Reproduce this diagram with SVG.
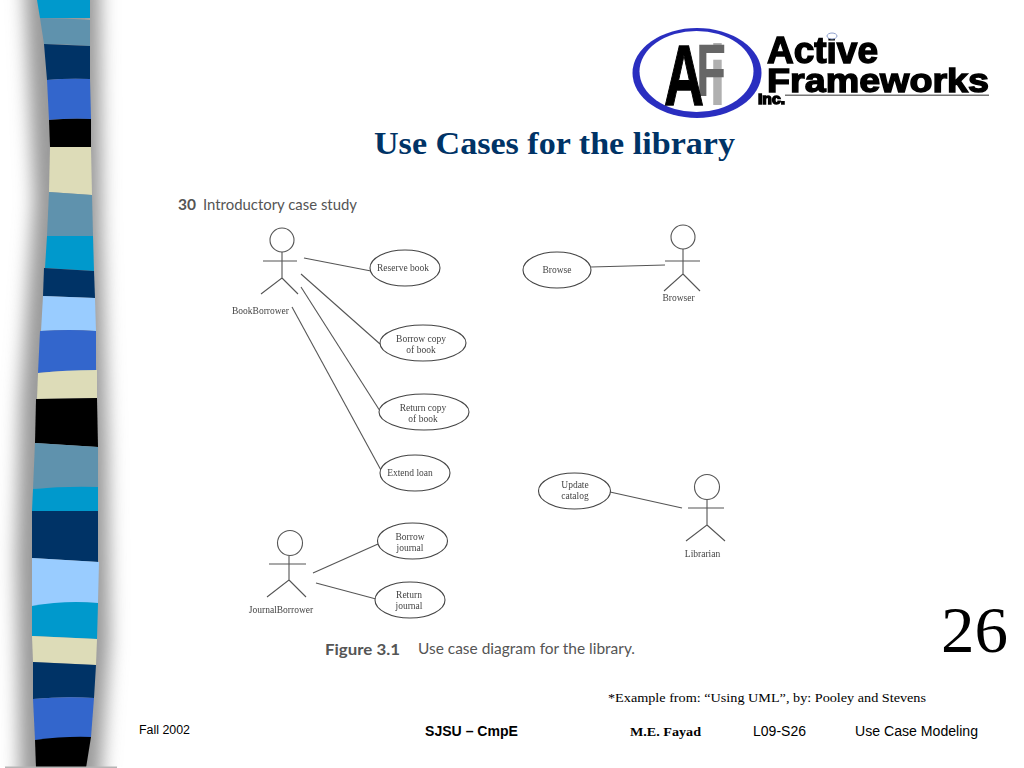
<svg xmlns="http://www.w3.org/2000/svg" width="1024" height="768" viewBox="0 0 1024 768">
<defs>
<style>
.ln{fill:none;stroke:#555;stroke-width:1.1}
.uc{fill:#fff;stroke:#444;stroke-width:1.1}
.t{font-family:"Liberation Serif",serif;font-size:9.5px;fill:#444;text-anchor:middle}
.h{font-family:Lato,"Open Sans",sans-serif;fill:#555}
.f{font-family:"Liberation Sans",sans-serif;fill:#000}
.s{font-family:"Liberation Serif",serif;fill:#000}
.logo{font-family:"Liberation Sans",sans-serif;font-weight:bold;fill:#000;stroke:#000;stroke-width:1.4}
</style>
<filter id="b" x="-40%" y="-5%" width="180%" height="110%"><feGaussianBlur stdDeviation="9"/></filter>
<filter id="soft" x="-5%" y="-5%" width="110%" height="110%"><feGaussianBlur stdDeviation="0.35"/></filter>
<clipPath id="page"><rect x="0" y="0" width="1024" height="767"/></clipPath>
</defs>
<rect width="1024" height="768" fill="#fff"/>

<g id="sidebar" clip-path="url(#page)">
<path d="M24 -20L100 -20L102 230L108 450L110 640L100 790L20 790L16 560L20 400L34 200Z" fill="#9a9a9a" filter="url(#b)"/>
<path d="M37 0L90 0L90 18L40 18Z" fill="#0099cc"/>
<path d="M40 18Q65 18 90 20L90 46Q65 44 44 44Z" fill="#5f92ad"/>
<path d="M44 44L90 46L90 79Q68 78 47 80Z" fill="#003366"/>
<path d="M47 80Q68 78 90 79L91 119Q68 118 49 120Z" fill="#3366cc"/>
<path d="M49 120Q70 118 91 119L91 147L50 147Z" fill="#000"/>
<path d="M50 147L91 147L92 195L49 192Z" fill="#dddcb8"/>
<path d="M49 192L92 195L93 236L47 236Z" fill="#5f92ad"/>
<path d="M47 236L93 236L94 271L45 268Z" fill="#0099cc"/>
<path d="M44 268L94 271L95 298L43 296Z" fill="#003366"/>
<path d="M43 296L95 298L96 331Q70 329 41 331Z" fill="#99ccff"/>
<path d="M40 331Q70 329 96 331L96 371Q65 370 38 373Z" fill="#3366cc"/>
<path d="M38 373Q65 370 97 370L97 398L37 399Z" fill="#dddcb8"/>
<path d="M36 399L97 398L98 447L35 443Z" fill="#000"/>
<path d="M35 443L98 447L98 488Q65 487 33 489Z" fill="#5f92ad"/>
<path d="M33 489Q65 486 98 487L98 511L32 511Z" fill="#0099cc"/>
<path d="M32 511L98 511L98 562L32 558Z" fill="#003366"/>
<path d="M32 558L99 562L98 603Q65 601 32 606Z" fill="#99ccff"/>
<path d="M32 606Q65 600 98 603L97 639L32 636Z" fill="#0099cc"/>
<path d="M32 636L97 639L96 665L33 662Z" fill="#dddcb8"/>
<path d="M33 662L96 665L94 698Q65 696 33 699Z" fill="#003366"/>
<path d="M33 699Q65 696 94 698L91 737L35 740Z" fill="#3366cc"/>
<path d="M35 740Q65 736 91 737L86 768L36 768Z" fill="#000"/>
</g>
<rect id="footer-rule" x="5" y="766.500" width="112" height="1.500" fill="#b5b5b5"/>

<g id="logo" filter="url(#soft)">
<ellipse cx="697" cy="73" rx="64.500" ry="45" fill="#2a2fc0"/>
<ellipse cx="696.500" cy="71.500" rx="57" ry="40.500" fill="#fff"/>
<text x="709" y="105" font-family="Liberation Sans,sans-serif" font-weight="bold" font-size="86" fill="#b0b0b0" textLength="17" lengthAdjust="spacingAndGlyphs">i</text>
<text x="696" y="96" font-family="Liberation Sans,sans-serif" font-weight="bold" font-size="74" fill="#666" textLength="30" lengthAdjust="spacingAndGlyphs">F</text>
<text class="logo" x="664" y="105" font-size="86" textLength="40" lengthAdjust="spacingAndGlyphs">A</text>
<text class="logo" x="767" y="63" font-size="36" textLength="111" lengthAdjust="spacingAndGlyphs">Active</text>
<text class="logo" x="767" y="92" font-size="34" textLength="222" lengthAdjust="spacingAndGlyphs">Frameworks</text>
<text class="logo" x="758" y="104" font-size="14" stroke-width=".4" textLength="27" lengthAdjust="spacingAndGlyphs">Inc.</text>
<rect x="785" y="94.500" width="204" height="1.500" fill="#777"/>
<ellipse cx="832" cy="36" rx="5" ry="3" fill="#fff" stroke="#8fa0cc"/>
</g>

<text id="title" x="374" y="154" font-family="Liberation Serif,serif" font-weight="bold" font-size="32" fill="#003366" textLength="361" lengthAdjust="spacingAndGlyphs">Use Cases for the library</text>

<g id="book-heading">
<text class="h" x="178" y="210" font-size="16" font-weight="bold" fill="#444" textLength="18" lengthAdjust="spacingAndGlyphs">30</text>
<text class="h" x="203" y="210" font-size="15" textLength="154" lengthAdjust="spacingAndGlyphs">Introductory case study</text>
</g>

<g id="connectors" filter="url(#soft)">
<line class="ln" x1="304" y1="258" x2="371" y2="271"/>
<line class="ln" x1="301" y1="274" x2="380" y2="344"/>
<line class="ln" x1="301" y1="287" x2="380" y2="411"/>
<line class="ln" x1="292" y1="307" x2="382" y2="472"/>
<line class="ln" x1="591" y1="267" x2="665" y2="265"/>
<line class="ln" x1="610" y1="492" x2="682" y2="508"/>
<line class="ln" x1="313" y1="573" x2="378" y2="544"/>
<line class="ln" x1="316" y1="583" x2="376" y2="599"/>
</g>

<g id="actor-bookborrower" filter="url(#soft)">
<circle class="ln" cx="282" cy="240" r="12"/>
<path class="ln" d="M263 261H297M282 252V278L261 294M282 278L298 294"/>
<text class="t" x="260.500" y="314">BookBorrower</text>
</g>
<g id="actor-browser" filter="url(#soft)">
<circle class="ln" cx="683" cy="237" r="12"/>
<path class="ln" d="M665 261H700M683 249V274L664 291M683 274L700 291"/>
<text class="t" x="678.500" y="301">Browser</text>
</g>
<g id="actor-librarian" filter="url(#soft)">
<circle class="ln" cx="707" cy="487" r="12.500"/>
<path class="ln" d="M688 508H724M707 500V525L686 541M707 525L725 541"/>
<text class="t" x="702.500" y="557">Librarian</text>
</g>
<g id="actor-journalborrower" filter="url(#soft)">
<circle class="ln" cx="290" cy="543" r="12.500"/>
<path class="ln" d="M269 564H306M289 556V580L267 597M289 580L306 597"/>
<text class="t" x="281" y="613">JournalBorrower</text>
</g>

<g id="uc-reserve" filter="url(#soft)"><ellipse class="uc" cx="405" cy="268" rx="35" ry="18"/><text class="t" x="403" y="271">Reserve book</text></g>
<g id="uc-borrow-copy" filter="url(#soft)"><ellipse class="uc" cx="423" cy="343" rx="43" ry="18"/><text class="t" x="421" y="342">Borrow copy</text><text class="t" x="421" y="353">of book</text></g>
<g id="uc-return-copy" filter="url(#soft)"><ellipse class="uc" cx="424" cy="412" rx="45" ry="18"/><text class="t" x="423" y="411">Return copy</text><text class="t" x="423" y="422">of book</text></g>
<g id="uc-extend" filter="url(#soft)"><ellipse class="uc" cx="415" cy="473" rx="35" ry="18"/><text class="t" x="410" y="476">Extend loan</text></g>
<g id="uc-browse" filter="url(#soft)"><ellipse class="uc" cx="557" cy="270" rx="34" ry="18"/><text class="t" x="557" y="273">Browse</text></g>
<g id="uc-update" filter="url(#soft)"><ellipse class="uc" cx="574.500" cy="491" rx="36" ry="18"/><text class="t" x="575" y="488">Update</text><text class="t" x="575" y="499">catalog</text></g>
<g id="uc-borrow-journal" filter="url(#soft)"><ellipse class="uc" cx="412.500" cy="541" rx="35" ry="18"/><text class="t" x="410" y="540">Borrow</text><text class="t" x="410" y="551">journal</text></g>
<g id="uc-return-journal" filter="url(#soft)"><ellipse class="uc" cx="410" cy="600" rx="35" ry="18"/><text class="t" x="409" y="598">Return</text><text class="t" x="409" y="609">journal</text></g>

<g id="figure-caption">
<text class="h" x="325" y="655" font-size="16" font-weight="bold" fill="#444" textLength="75" lengthAdjust="spacingAndGlyphs">Figure 3.1</text>
<text class="h" x="418" y="654" font-size="15" textLength="217" lengthAdjust="spacingAndGlyphs">Use case diagram for the library.</text>
</g>

<text id="page-number" class="s" x="941" y="652" font-size="66" textLength="67" lengthAdjust="spacingAndGlyphs">26</text>

<g id="footer">
<text class="s" x="608" y="702" font-size="13.500" textLength="318" lengthAdjust="spacingAndGlyphs">*Example from: “Using UML”, by: Pooley and Stevens</text>
<text class="f" x="139" y="734" font-size="12" textLength="51" lengthAdjust="spacingAndGlyphs">Fall 2002</text>
<text class="f" x="425" y="736" font-size="14" font-weight="bold" textLength="93" lengthAdjust="spacingAndGlyphs">SJSU – CmpE</text>
<text class="s" x="630" y="736" font-size="12" font-weight="bold" textLength="71" lengthAdjust="spacingAndGlyphs">M.E. Fayad</text>
<text class="f" x="753" y="736" font-size="14" textLength="53" lengthAdjust="spacingAndGlyphs">L09-S26</text>
<text class="f" x="855" y="736" font-size="14" textLength="123" lengthAdjust="spacingAndGlyphs">Use Case Modeling</text>
</g>
</svg>
